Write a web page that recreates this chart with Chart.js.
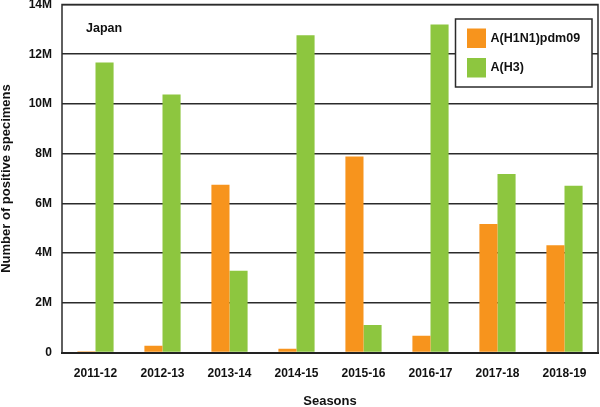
<!DOCTYPE html>
<html>
<head>
<meta charset="utf-8">
<script src="https://cdn.jsdelivr.net/npm/chart.js@4/dist/chart.umd.min.js"></script>
<style>
  html, body { margin: 0; padding: 0; background: #fff; }
  canvas { display: block; }
</style>
</head>
<body>
<canvas id="chart" width="600" height="407"></canvas>
<script>
const seasons = ["2011-12", "2012-13", "2013-14", "2014-15", "2015-16", "2016-17", "2017-18", "2018-19"]
// values in millions of positive specimens
const h1n1 = [0.05, 0.27, 6.75, 0.15, 7.89, 0.67, 5.17, 4.31]
const h3 = [11.67, 10.38, 3.29, 12.76, 1.11, 13.2, 7.18, 6.71]
const yTicks = [0, 2, 4, 6, 8, 10, 12, 14]

const FONT = "'Liberation Sans', Arial, Helvetica, sans-serif"
const ORANGE = "#F7941D"
const GREEN = "#8DC63F"
const LINE = "#2b2b2b"

// box around the plot and the "Japan" note
const framePlugin = {
  id: "frame",
  afterDraw(chart) {
    const {ctx, chartArea: a} = chart
    ctx.save()
    ctx.strokeStyle = LINE
    ctx.lineWidth = 1.5
    ctx.beginPath()
    ctx.moveTo(a.left, a.bottom)
    ctx.lineTo(a.left, a.top)
    ctx.lineTo(a.right, a.top)
    ctx.lineTo(a.right, a.bottom)
    ctx.stroke()
    ctx.fillStyle = "#111"
    ctx.font = "bold 12.5px " + FONT
    ctx.textBaseline = "middle"
    ctx.fillText("Japan", a.left + 24, 28.5)
    ctx.restore()
  }
}

// legend boxed inside the top-right of the plot
const boxLegend = {
  id: "boxLegend",
  afterDraw(chart) {
    const {ctx, chartArea: a} = chart
    const x = a.right - 142.5, y = a.top + 14.5, w = 136.5, h = 68
    ctx.save()
    ctx.fillStyle = "#fff"
    ctx.fillRect(x, y, w, h)
    ctx.strokeStyle = LINE
    ctx.lineWidth = 1.5
    ctx.strokeRect(x, y, w, h)
    ctx.font = "bold 12.5px " + FONT
    ctx.textBaseline = "middle"
    chart.data.datasets.forEach((ds, i) => {
      const sy = y + 9.5 + i * 29.5
      ctx.fillStyle = ds.backgroundColor
      ctx.fillRect(x + 11.5, sy, 19, 19.5)
      ctx.fillStyle = "#111"
      ctx.fillText(ds.label, x + 35, sy + 10)
    })
    ctx.restore()
  }
}

new Chart(document.getElementById("chart"), {
  type: "bar",
  data: {
    labels: seasons,
    datasets: [
      {label: "A(H1N1)pdm09", data: h1n1, backgroundColor: ORANGE},
      {label: "A(H3)", data: h3, backgroundColor: GREEN}
    ]
  },
  options: {
    responsive: false,
    animation: false,
    layout: {padding: {top: 4.5, right: 2, left: 0, bottom: 0}},
    datasets: {bar: {categoryPercentage: 0.54, barPercentage: 1}},
    plugins: {legend: {display: false}, tooltip: {enabled: false}},
    scales: {
      x: {
        grid: {display: false, drawTicks: false},
        border: {display: true, color: "#222", width: 2},
        ticks: {color: "#111", padding: 14, font: {family: FONT, size: 12, weight: "bold"}},
        title: {
          display: true, text: "Seasons", color: "#111",
          font: {family: FONT, size: 13, weight: "bold"},
          padding: {top: 0, bottom: -2}
        },
        afterFit(scale) {
          scale.height = 54.5
          scale.paddingLeft = 0
          scale.paddingRight = 0
        }
      },
      y: {
        min: 0,
        max: 14,
        afterBuildTicks(scale) { scale.ticks = yTicks.map(v => ({value: v})) },
        grid: {color: LINE, lineWidth: 1.5, drawTicks: false},
        border: {display: false},
        ticks: {
          color: "#111", padding: 10,
          font: {family: FONT, size: 12, weight: "bold"},
          callback: v => v === 0 ? "0" : v + "M"
        },
        title: {
          display: true, text: "Number of positive specimens", color: "#111",
          font: {family: FONT, size: 13, weight: "bold"},
          padding: {top: -1, bottom: 0}
        },
        afterFit(scale) {
          scale.width = 62
          scale.paddingTop = 0
          scale.paddingBottom = 0
        }
      }
    }
  },
  plugins: [framePlugin, boxLegend]
})
</script>
</body>
</html>
